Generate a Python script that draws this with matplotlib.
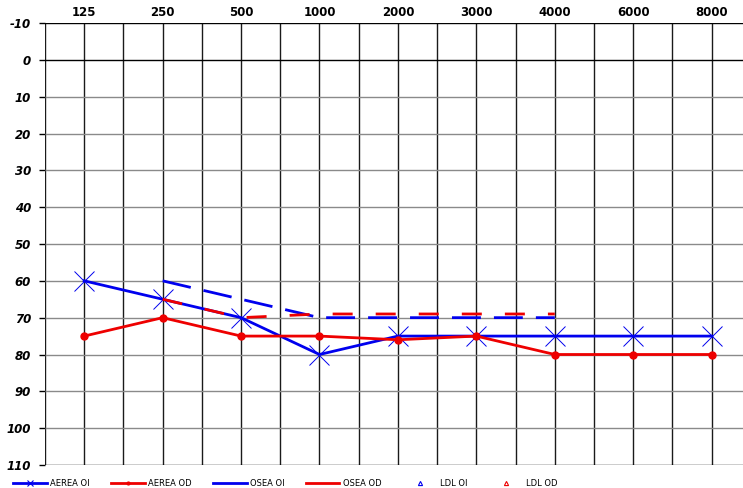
import matplotlib
matplotlib.use("Agg")
import matplotlib.pyplot as plt
from matplotlib.lines import Line2D
import numpy as np

plt.rcParams['font.family'] = ['DejaVu Sans']

freqs = ['125', '250', '500', '1000', '2000', '3000', '4000', '6000', '8000']
db_ticks = list(range(-10, 111, 10))

# air conduction
aerea_oi = [60, 65, 70, 80, 75, 75, 75, 75, 75]
aerea_od = [75, 70, 75, 75, 76, 75, 80, 80, 80]
# bone conduction (250..4000)
osea_freq_idx = [1, 2, 3, 4, 5, 6]
osea_oi = [60, 65, 70, 70, 70, 70]
osea_od = [65, 70, 69, 69, 69, 69]

fig = plt.figure(figsize=(7.43, 4.88), dpi=100)
ax = fig.add_axes([45/743, 23/488, 1 - 45/743, 442/488])

x = np.arange(len(freqs))
ax.set_xlim(-0.5, 8.4)
ax.set_ylim(110, -10)

# grid
for v in np.arange(-0.5, 8.01, 0.5):
    ax.axvline(v, color='#1a1a1a', lw=1.0, zorder=1)
for h in db_ticks:
    ax.axhline(h, color='black' if h in (-10, 0, 110) else '#8a8a8a', lw=1.0, zorder=1)

ax.plot(x, aerea_oi, color='#0000ee', lw=2, marker='x', ms=15, mew=0.7, zorder=5)
ax.plot(x, aerea_od, color='#ee0000', lw=2, marker='o', ms=5, zorder=5)
ax.plot(osea_freq_idx, osea_oi, color='#0000ee', lw=2, dashes=(10.4, 4.7), zorder=6)
ax.plot(osea_freq_idx, osea_od, color='#ee0000', lw=2, dashes=(7.2, 8.3), zorder=7)

for s in ax.spines.values():
    s.set_visible(False)

ax.set_yticks(db_ticks)
ax.set_yticklabels([str(t) for t in db_ticks], fontsize=8.5, fontweight='bold', fontstyle='italic')
ax.tick_params(axis='y', length=4, width=1, pad=6)

ax.xaxis.tick_top()
ax.set_xticks(x)
ax.set_xticklabels(freqs, fontsize=8.5, fontweight='bold')
ax.tick_params(axis='x', length=0, pad=3)

handles = [
    Line2D([], [], color='#0000ee', lw=2, marker='x', ms=5, mew=0.8),
    Line2D([], [], color='#ee0000', lw=2, marker='o', ms=2),
    Line2D([], [], color='#0000ee', lw=2),
    Line2D([], [], color='#ee0000', lw=2),
    Line2D([], [], color='#0000ee', lw=0, marker='^', ms=3, mfc='none', mew=0.8),
    Line2D([], [], color='#ee0000', lw=0, marker='^', ms=3, mfc='none', mew=0.8),
]
labels = ['AEREA OI', 'AEREA OD', 'OSEA OI', 'OSEA OD', 'LDL OI', 'LDL OD']
fig.legend(handles, labels, loc='lower left', bbox_to_anchor=(0.01, -0.012), ncol=6,
           frameon=False, fontsize=6, handlelength=4, handletextpad=0.4,
           columnspacing=2.6, borderpad=0.2)

fig.savefig('out.png', dpi=100)
